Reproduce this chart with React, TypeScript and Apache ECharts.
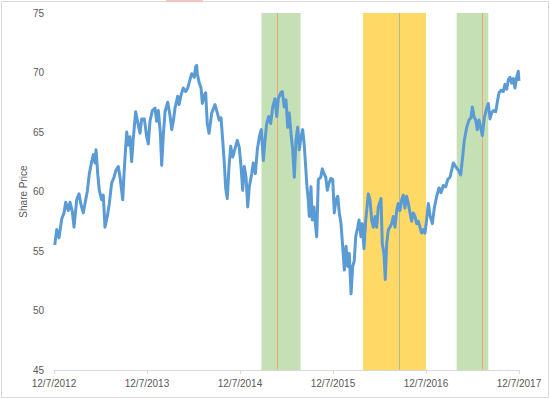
import React, { useEffect, useRef } from "react";
import * as echarts from "echarts";

// Time in years since 12/7/2012
const years: number[] = [
  0.008, 0.029, 0.054, 0.083, 0.108, 0.126, 0.154, 0.172, 0.197, 0.215,
  0.244, 0.269, 0.287, 0.315, 0.333, 0.358, 0.380, 0.405, 0.423, 0.441,
  0.452, 0.470, 0.487, 0.513, 0.530, 0.548, 0.573, 0.595, 0.620, 0.645,
  0.667, 0.691, 0.710, 0.739, 0.753, 0.769, 0.782, 0.799, 0.817, 0.835,
  0.853, 0.878, 0.906, 0.925, 0.943, 0.971, 0.997, 1.014, 1.032, 1.057,
  1.086, 1.104, 1.122, 1.143, 1.158, 1.175, 1.194, 1.223, 1.247, 1.266,
  1.283, 1.301, 1.330, 1.344, 1.366, 1.390, 1.416, 1.438, 1.462, 1.481,
  1.509, 1.524, 1.534, 1.541, 1.559, 1.581, 1.595, 1.616, 1.631, 1.648,
  1.667, 1.696, 1.731, 1.756, 1.777, 1.796, 1.814, 1.831, 1.846, 1.863,
  1.882, 1.900, 1.922, 1.943, 1.971, 1.992, 2.011, 2.029, 2.046, 2.065,
  2.083, 2.100, 2.126, 2.143, 2.165, 2.186, 2.208, 2.229, 2.251, 2.269,
  2.287, 2.309, 2.330, 2.352, 2.376, 2.395, 2.412, 2.438, 2.455, 2.476,
  2.495, 2.513, 2.530, 2.548, 2.567, 2.584, 2.602, 2.620, 2.638, 2.656,
  2.674, 2.691, 2.706, 2.720, 2.734, 2.745, 2.763, 2.777, 2.796, 2.806,
  2.825, 2.842, 2.868, 2.885, 2.903, 2.922, 2.939, 2.957, 2.978, 2.997,
  3.014, 3.032, 3.051, 3.068, 3.086, 3.104, 3.122, 3.140, 3.158, 3.175,
  3.194, 3.212, 3.229, 3.244, 3.266, 3.280, 3.301, 3.315, 3.333, 3.352,
  3.380, 3.398, 3.416, 3.433, 3.452, 3.470, 3.487, 3.516, 3.530, 3.548,
  3.562, 3.577, 3.595, 3.613, 3.631, 3.648, 3.667, 3.685, 3.702, 3.720,
  3.739, 3.756, 3.774, 3.792, 3.810, 3.828, 3.846, 3.863, 3.882, 3.900,
  3.917, 3.935, 3.954, 3.971, 3.989, 4.008, 4.025, 4.043, 4.068, 4.089,
  4.115, 4.140, 4.161, 4.186, 4.212, 4.233, 4.258, 4.276, 4.294, 4.319,
  4.347, 4.373, 4.390, 4.412, 4.438, 4.462, 4.484, 4.498, 4.516, 4.534,
  4.552, 4.570, 4.588, 4.605, 4.627, 4.653, 4.670, 4.688, 4.706, 4.724,
  4.749, 4.771, 4.785, 4.806, 4.831, 4.849, 4.868, 4.885, 4.903, 4.922,
  4.939, 4.957, 4.975, 4.992, 5.000,
];

const prices: number[] = [
  55.5, 56.8, 56.1, 57.7, 58.2, 59.1, 58.4, 59.1, 58.3, 57.0,
  59.3, 59.8, 59.0, 58.2, 59.0, 60.0, 61.5, 62.5, 63.1, 62.4,
  63.5, 61.5, 60.1, 59.3, 59.7, 57.0, 57.9, 59.0, 60.7, 61.2,
  61.8, 62.1, 61.2, 59.3, 61.5, 63.5, 65.0, 63.9, 64.6, 62.5,
  64.5, 66.7, 65.6, 64.9, 66.1, 66.1, 64.6, 64.0, 65.9, 66.8,
  67.0, 65.9, 66.8, 65.0, 62.2, 64.7, 66.7, 67.5, 66.4, 65.2,
  65.9, 67.0, 68.0, 67.3, 68.1, 68.7, 68.4, 68.7, 69.4, 69.9,
  69.6, 70.5, 70.6, 69.9, 69.2, 68.7, 67.4, 68.1, 68.3, 65.7,
  64.9, 66.6, 67.3, 66.6, 66.0, 66.2, 64.3, 62.4, 60.3, 59.4,
  62.1, 63.8, 62.9, 63.5, 64.3, 63.7, 62.1, 60.1, 62.1, 61.2,
  58.7, 60.4, 61.5, 62.4, 61.5, 63.5, 64.6, 65.2, 62.6, 64.3,
  65.7, 66.3, 65.7, 67.1, 67.8, 66.3, 67.8, 68.3, 68.4, 67.1,
  67.7, 65.4, 66.6, 64.9, 63.5, 61.2, 64.3, 65.4, 63.5, 64.6,
  65.2, 63.9, 62.1, 60.4, 59.3, 57.9, 60.4, 57.6, 58.7, 57.6,
  56.2, 61.0, 61.2, 61.9, 61.5, 61.2, 60.1, 60.7, 61.1, 61.0,
  58.2, 59.3, 59.6, 58.2, 57.3, 55.4, 53.4, 55.4, 53.7, 54.8,
  51.4, 53.7, 54.2, 56.2, 57.0, 57.6, 56.2, 57.3, 55.2, 57.6,
  59.8, 59.3, 57.6, 57.0, 57.9, 57.0, 58.7, 59.4, 55.6, 54.8,
  52.6, 55.6, 56.8, 57.0, 57.3, 57.9, 57.0, 58.4, 59.0, 58.4,
  59.3, 59.7, 58.6, 59.6, 59.0, 58.2, 57.5, 58.2, 57.9, 57.3,
  57.5, 57.0, 56.5, 56.8, 56.5, 57.7, 59.0, 58.0, 57.3, 58.6,
  59.6, 60.3, 59.9, 60.5, 60.4, 61.0, 61.2, 61.8, 62.4, 62.1,
  61.8, 61.4, 62.6, 64.3, 65.4, 66.0, 66.2, 67.1, 66.3, 66.0,
  65.2, 66.0, 65.4, 64.7, 66.2, 67.0, 67.4, 66.1, 66.6, 66.8,
  66.7, 67.7, 68.3, 68.5, 68.4, 69.0, 68.6, 69.4, 69.6, 69.1,
  69.5, 68.7, 69.6, 70.1, 69.3,
];

const tickYears: string[] = ["12/7/2012", "12/7/2013", "12/7/2014", "12/7/2015", "12/7/2016", "12/7/2017"];

const bandStarts: number[] = [2.231, 3.323, 4.330];
const bandEnds: number[] = [2.651, 4.0, 4.670];
const bandColors: string[] = ["#C5E0B4", "#FFD966", "#C5E0B4"];

const eventLines: number[] = [2.401, 3.706, 4.613];
const eventColors: string[] = ["#F0A868", "#B7B7A0", "#F0A868"];

const yAxisTitle = "Share Price";

export default function App() {
  const ref = useRef<HTMLDivElement>(null);
  useEffect(() => {
    if (!ref.current) return;
    const chart = echarts.init(ref.current, null, { renderer: "svg" });
    const font = "Liberation Sans, Arial, sans-serif";
    const seriesData = years.map((t, i) => [t, prices[i]]);
    chart.setOption({
      animation: false,
      backgroundColor: "#ffffff",
      grid: { left: 54, right: 31, top: 13, bottom: 29, containLabel: false },
      xAxis: {
        type: "value",
        min: 0,
        max: 5,
        interval: 1,
        axisLine: { show: true, lineStyle: { color: "#D9D9D9", width: 1 } },
        axisTick: { show: true, length: 4, lineStyle: { color: "#D9D9D9" } },
        splitLine: { show: false },
        axisLabel: {
          color: "#595959",
          fontSize: 10,
          fontFamily: font,
          margin: 8,
          formatter: (v: number) => tickYears[Math.round(v)] ?? "",
        },
      },
      yAxis: {
        type: "value",
        min: 45,
        max: 75,
        interval: 5,
        axisLine: { show: false },
        axisTick: { show: false },
        splitLine: { show: false },
        axisLabel: { color: "#595959", fontSize: 10, fontFamily: font, margin: 10 },
      },
      graphic: [
        {
          type: "rect",
          shape: { x: 1.5, y: 1.5, width: 547, height: 396 },
          style: { fill: "none", stroke: "#D9D9D9", lineWidth: 1 },
          silent: true,
          z: -1,
        },
        {
          type: "rect",
          shape: { x: 166, y: 0, width: 37, height: 2 },
          style: { fill: "#F6C3C3" },
          silent: true,
        },
        {
          type: "text",
          x: 23,
          y: 191.5,
          rotation: Math.PI / 2,
          style: {
            text: yAxisTitle,
            fill: "#595959",
            fontSize: 10,
            fontFamily: font,
            align: "center",
            verticalAlign: "middle",
          },
          silent: true,
        },
      ],
      series: [
        {
          type: "line",
          name: "bands",
          data: [],
          z: 1,
          silent: true,
          markArea: {
            silent: true,
            data: bandStarts.map((s, i) => [
              { xAxis: s, itemStyle: { color: bandColors[i], opacity: 1 } },
              { xAxis: bandEnds[i] },
            ]),
          },
          markLine: {
            silent: true,
            symbol: ["none", "none"],
            label: { show: false },
            data: eventLines.map((v, i) => ({
              xAxis: v,
              lineStyle: { color: eventColors[i], width: 1, type: "solid" },
            })),
          },
        },
        {
          type: "line",
          name: "Share Price",
          data: seriesData,
          z: 5,
          showSymbol: false,
          symbol: "none",
          lineStyle: { color: "#5B9BD5", width: 3, join: "round" },
        },
      ],
    });
    return () => chart.dispose();
  }, []);
  return (
    <div
      ref={ref}
      style={{ position: "fixed", left: 0, top: 0, width: 550, height: 399 }}
    />
  );
}
